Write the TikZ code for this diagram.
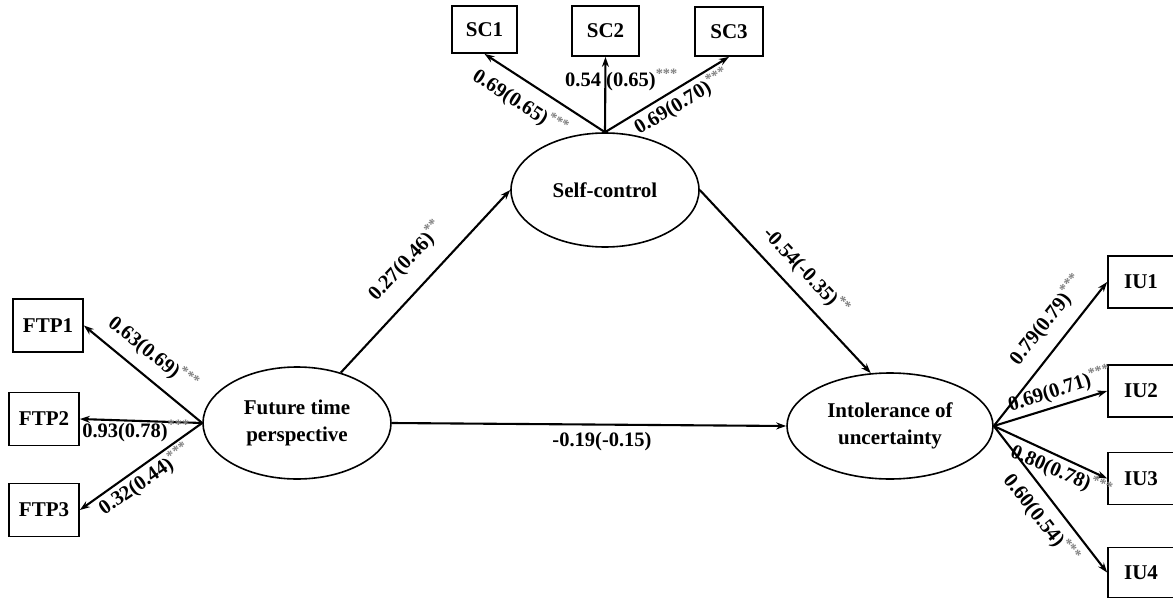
\documentclass[tikz,border=0pt]{standalone}
\usepackage{fontspec}
\setmainfont{Liberation Serif}
\usetikzlibrary{shapes.geometric,arrows.meta}
\newcommand{\sigstar}[1]{\textsuperscript{\textcolor{black!50}{#1}}}
\begin{document}
\begin{tikzpicture}[x=1pt,y=-1pt,
  every node/.style={font=\fontsize{21}{27}\selectfont\bfseries},
  obs/.style={draw, line width=1.8pt, minimum width=70pt, minimum height=53pt, inner sep=0pt},
  lat/.style={draw, ellipse, line width=1.6pt, inner sep=0pt, align=center},
  arr/.style={-{Stealth[length=10pt,width=7pt]}, line width=2.1pt},
  lab/.style={inner sep=0pt, font=\fontsize{20.5}{22}\selectfont\bfseries},
]
\useasboundingbox (0,0) rectangle (1173,602);
% observed indicators
\node[obs] (ftp1) at (48,325.5) {FTP1};
\node[obs] (ftp2) at (44,419) {FTP2};
\node[obs] (ftp3) at (44,510) {FTP3};
\node[obs, minimum width=65pt, minimum height=47pt] (sc1) at (484.5,29.5) {SC1};
\node[obs, minimum width=67pt, minimum height=50pt] (sc2) at (605.5,31) {SC2};
\node[obs, minimum width=68pt, minimum height=49pt] (sc3) at (729,31.5) {SC3};
\node[obs, minimum width=66pt, minimum height=52pt] (iu1) at (1141,282) {IU1};
\node[obs, minimum width=66pt, minimum height=52pt] (iu2) at (1141,391) {IU2};
\node[obs, minimum width=66pt, minimum height=52pt] (iu3) at (1141,478.5) {IU3};
\node[obs, minimum width=66pt, minimum height=50pt] (iu4) at (1141,572.5) {IU4};
% latent variables
\node[lat, minimum width=188pt, minimum height=112pt] (ftp) at (297,423) {Future time\\perspective};
\node[lat, minimum width=188pt, minimum height=114pt] (sc) at (605,190) {Self-control};
\node[lat, minimum width=206pt, minimum height=106pt] (iu) at (890,426) {Intolerance of\\uncertainty};
% loadings
\draw[arr] (ftp.west) -- (ftp1.east);
\draw[arr] (ftp.west) -- (ftp2.east);
\draw[arr] (ftp.west) -- (ftp3.east);
\draw[arr] (sc.north) -- (sc1.south);
\draw[arr] (sc.north) -- (sc2.south);
\draw[arr] (sc.north) -- (sc3.south);
\draw[arr] (iu.east) -- (iu1.west);
\draw[arr] (iu.east) -- (iu2.west);
\draw[arr] (iu.east) -- (iu3.west);
\draw[arr] (iu.east) -- (iu4.west);
% structural paths
\draw[arr] (ftp.49) -- (sc.west);
\draw[arr] (sc.east) -- (iu.110);
\draw[arr] (ftp.east) -- (iu.west);
% labels
\node[lab, rotate=-38.7] (l1) at (153,354) {0.63(0.69)\sigstar{***}};
\node[lab] (l2) at (136,431) {0.93(0.78)\sigstar{***}};
\node[lab, rotate=34.6] (l3) at (145,480) {0.32(0.44)\sigstar{***}};
\node[lab, rotate=-32.9] (l4) at (520,103) {0.69(0.65)\sigstar{***}};
\node[lab] (l5) at (621.5,80) {0.54 (0.65)\sigstar{***}};
\node[lab, rotate=30.8] (l6) at (682,102) {0.69(0.70)\sigstar{***}};
\node[lab, rotate=46.8] (l7) at (406,261) {0.27(0.46)\sigstar{**}};
\node[lab, rotate=-46.6] (l8) at (806,272) {-0.54(-0.35)\sigstar{**}};
\node[lab] (l9) at (602,442) {-0.19(-0.15)};
\node[lab, rotate=51.6] (l10) at (1047,320) {0.79(0.79)\sigstar{***}};
\node[lab, rotate=17.4] (l11) at (1060,389) {0.69(0.71)\sigstar{***}};
\node[lab, rotate=-23.9] (l12) at (1061,472) {0.80(0.78)\sigstar{***}};
\node[lab, rotate=-51.6] (l13) at (1041,519) {0.60(0.54)\sigstar{***}};
\end{tikzpicture}
\end{document}
